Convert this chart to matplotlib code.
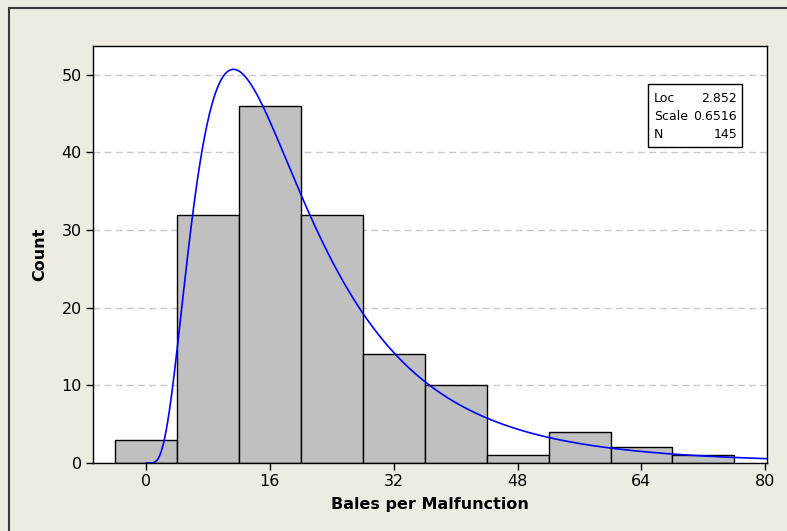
import numpy as np
import matplotlib
matplotlib.use("Agg")
import matplotlib.pyplot as plt
from matplotlib.patches import Rectangle

# ---- data ----
bin_centers = [0, 8, 16, 24, 32, 40, 48, 56, 64, 72]
counts = [3, 32, 46, 32, 14, 10, 1, 4, 2, 1]
bin_width = 8
fit_loc = 2.852
fit_scale = 0.6516
fit_n = 145
x_ticks = [0, 16, 32, 48, 64, 80]
y_ticks = [0, 10, 20, 30, 40, 50]

W, H = 787, 531
fig = plt.figure(figsize=(W / 100, H / 100), dpi=100)
bg = "#EEEBE2"
fig.patch.set_facecolor(bg)

# outer frame lines (left & top)
fig.add_artist(Rectangle((9 / W, -0.2), 1.5, 1.2 - 8 / H + 0.0, transform=fig.transFigure,
                         fill=False, edgecolor="#3a3a3a", linewidth=1.5))

ax = fig.add_axes([93 / W, 1 - 463 / H, (767 - 93) / W, (463 - 46) / H])
ax.set_facecolor("white")

font = "DejaVu Sans"

ax.bar(bin_centers, counts, width=bin_width, color="#C0C0C0", edgecolor="black",
       linewidth=1.0, zorder=2)

# fitted lognormal curve scaled to counts
xs = np.linspace(0.01, 81, 800)
pdf = np.exp(-(np.log(xs) - fit_loc) ** 2 / (2 * fit_scale ** 2)) / (xs * fit_scale * np.sqrt(2 * np.pi))
ax.plot(xs, pdf * fit_n * bin_width, color="#0000FF", linewidth=1.2, zorder=3)

ax.set_xlim(-6.8, 80.2)
ax.set_ylim(0, 53.7)
ax.set_xticks(x_ticks)
ax.set_yticks(y_ticks)
ax.yaxis.grid(True, linestyle=(0, (5, 3)), color="#C8C8C8", linewidth=1.0, zorder=0)
ax.set_axisbelow(True)
ax.tick_params(direction="out", length=5, width=1, labelsize=11.5, pad=3)
for lab in ax.get_xticklabels() + ax.get_yticklabels():
    lab.set_family(font)
for s in ax.spines.values():
    s.set_color("black")
    s.set_linewidth(1.0)

ax.set_xlabel("Bales per Malfunction", fontsize=11.5, fontweight="bold", family=font, labelpad=6)
ax.set_ylabel("Count", fontsize=11.5, fontweight="bold", family=font, labelpad=10)

# legend box with fit parameters
lx0, lx1 = 648 / W, 742 / W
ly0, ly1 = 1 - 147 / H, 1 - 84 / H
fig.add_artist(Rectangle((lx0, ly0), lx1 - lx0, ly1 - ly0, transform=fig.transFigure,
                         facecolor="white", edgecolor="black", linewidth=1.0, zorder=5))
rows = [("Loc", f"{fit_loc:.3f}"), ("Scale", f"{fit_scale:.4f}"), ("N", f"{fit_n}")]
row_y = [98, 116, 135]
for (k, v), yy in zip(rows, row_y):
    fig.text(654 / W, 1 - yy / H, k, ha="left", va="center", fontsize=9, family=font, zorder=6)
    fig.text(737 / W, 1 - yy / H, v, ha="right", va="center", fontsize=9, family=font, zorder=6)

fig.savefig("out.png", dpi=100, facecolor=bg)
